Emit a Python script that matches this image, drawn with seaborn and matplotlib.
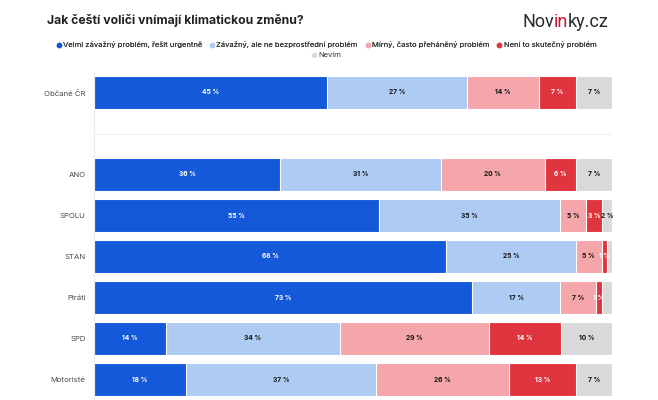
import matplotlib
matplotlib.use("Agg")
import matplotlib.pyplot as plt
from matplotlib.lines import Line2D
import seaborn as sns
import pandas as pd
import numpy as np

groups = ["Občané ČR", "ANO", "SPOLU", "STAN", "Piráti", "SPD", "Motoristé"]
order = ["Občané ČR", " ", "ANO", "SPOLU", "STAN", "Piráti", "SPD", "Motoristé"]
series = ["Velmi závažný problém, řešit urgentně",
          "Závažný, ale ne bezprostřední problém",
          "Mírný, často přeháněný problém",
          "Není to skutečný problém",
          "Nevím"]
velmi = [45, 36, 55, 68, 73, 14, 18]
zavazny = [27, 31, 35, 25, 17, 34, 37]
mirny = [14, 20, 5, 5, 7, 29, 26]
neni = [7, 6, 3, 1, 1, 14, 13]
nevim = [7, 7, 2, 1, 2, 10, 7]
hidden_labels = [("STAN", "Nevím"), ("Piráti", "Nevím")]

colors = ["#1559db", "#aecbf4", "#f4a6aa", "#e0343e", "#d9d9d9"]
label_colors = ["white", "#111111", "#111111", "white", "#111111"]

sns.set_theme(style="white")
plt.rcParams["font.family"] = ["Inter", "DejaVu Sans"]

vals = np.array([velmi, zavazny, mirny, neni, nevim], dtype=float)
totals = vals.sum(axis=0)
pct = vals / totals * 100
cum = np.cumsum(pct, axis=0)

df = pd.DataFrame({"group": groups})
for i in range(5):
    df[f"cum{i}"] = cum[i]

fig = plt.figure(figsize=(6.58, 4.0), dpi=100)
ax = fig.add_axes([94 / 658, 0.0, 518 / 658, 328 / 400])

for i in reversed(range(5)):
    sns.barplot(data=df, y="group", x=f"cum{i}", order=order, orient="h",
                color=colors[i], saturation=1, width=0.8,
                edgecolor="white", linewidth=0.8, ax=ax)

for gi, g in enumerate(groups):
    ypos = order.index(g)
    for si in range(5):
        if (g, series[si]) in hidden_labels:
            continue
        left = cum[si][gi] - pct[si][gi]
        xc = left + pct[si][gi] / 2
        ax.text(xc, ypos, f"{int(vals[si][gi])} %", ha="center", va="center",
                fontsize=4.8, fontweight="bold", color=label_colors[si])

ax.set_xlim(0, 100)
ax.set_ylim(len(order) - 0.5, -0.5)
ax.set_xlabel("")
ax.set_ylabel("")
ax.set_xticks([])
for s in ["top", "right", "bottom"]:
    ax.spines[s].set_visible(False)
ax.spines["left"].set_color("#ececec")
ax.spines["left"].set_linewidth(0.8)
ax.axhline(1, color="#f0f0f0", linewidth=0.8, zorder=0)
ax.tick_params(axis="y", length=0, pad=6, labelsize=5.6, labelcolor="#4a4a4a")

fig.text(47 / 658, 1 - 20.5 / 400, "Jak čeští voliči vnímají klimatickou změnu?",
         fontsize=8.8, fontweight="bold", color="#222222", va="center", ha="left")

# logo
logo_y = 1 - 22 / 400
logo_font = ["Roboto", "DejaVu Sans"]
logo_size = 13
t1 = fig.text(522 / 658, logo_y, "Nov", fontsize=logo_size, color="#2a2a2a", va="center", ha="left",
              family=logo_font)
fig.canvas.draw()
r = fig.canvas.get_renderer()
bb = t1.get_window_extent(r)
t2 = fig.text(bb.x1 / 658, logo_y, "in", fontsize=logo_size, color="#c41a33", va="center", ha="left",
              family=logo_font)
bb2 = t2.get_window_extent(r)
fig.text(bb2.x1 / 658, logo_y, "ky.cz", fontsize=logo_size, color="#2a2a2a", va="center", ha="left",
         family=logo_font)

handles = [Line2D([], [], marker="o", linestyle="", markersize=3, color=c) for c in colors]
leg1 = fig.legend(handles[:4], series[:4], loc="center", bbox_to_anchor=(326 / 658, 1 - 45 / 400),
                  ncol=4, frameon=False, fontsize=5.5, handletextpad=0.15, columnspacing=0.9,
                  handlelength=0.8, borderaxespad=0, labelcolor="#333333")
leg2 = fig.legend(handles[4:], series[4:], loc="center", bbox_to_anchor=(326 / 658, 1 - 55 / 400),
                  ncol=1, frameon=False, fontsize=5.5, handletextpad=0.15,
                  handlelength=0.8, borderaxespad=0, labelcolor="#333333")
fig.add_artist(leg1)

fig.savefig("out.png", dpi=100)
